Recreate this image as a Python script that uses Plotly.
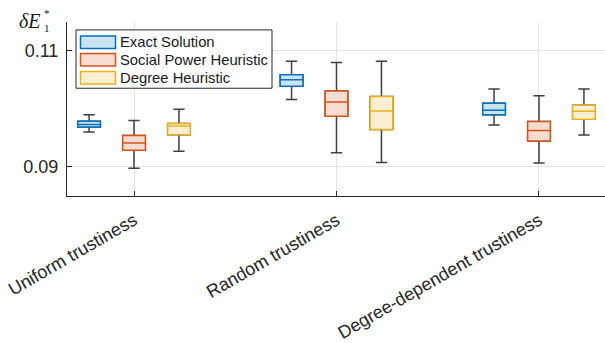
import plotly.graph_objects as go

# Scenario categories and compared methods
categories = ["Uniform trustiness", "Random trustiness", "Degree-dependent trustiness"]
methods = ["Exact Solution", "Social Power Heuristic", "Degree Heuristic"]

# Box statistics of delta E_1^* per scenario (whisker ends, quartiles, median)
exact_lower = [0.09597, 0.10159, 0.09716]
exact_q1 = [0.09682, 0.10386, 0.09897]
exact_median = [0.09726, 0.10500, 0.09972]
exact_q3 = [0.09784, 0.10586, 0.10091]
exact_upper = [0.09897, 0.10818, 0.10340]

social_lower = [0.08971, 0.09239, 0.09061]
social_q1 = [0.09283, 0.09870, 0.09443]
social_median = [0.09409, 0.10113, 0.09624]
social_q3 = [0.09539, 0.10306, 0.09778]
social_upper = [0.09795, 0.10795, 0.10221]

degree_lower = [0.09266, 0.09073, 0.09546]
degree_q1 = [0.09551, 0.09641, 0.09818]
degree_median = [0.09699, 0.09960, 0.09955]
degree_q3 = [0.09743, 0.10211, 0.10057]
degree_upper = [0.09989, 0.10818, 0.10340]

y_ticks = [0.09, 0.11]
y_tick_labels = ["0.09", "0.11"]

# Styling
W, H = 605, 343
ML, MR, MT, MB = 67, 0, 22, 145
FONT = "Liberation Sans"
AXIS_COLOR = "#262626"
GRID_COLOR = "#e4e4e4"
WHISKER_COLOR = "#404040"
EDGE = ["#0072BD", "#D95319", "#EDB120"]
FILL = ["rgb(204,227,242)", "rgb(247,221,209)", "rgb(251,239,210)"]
OFFSETS = [-0.222, 0.0, 0.222]
BOX_W = 0.112

stats = [
    (exact_lower, exact_q1, exact_median, exact_q3, exact_upper),
    (social_lower, social_q1, social_median, social_q3, social_upper),
    (degree_lower, degree_q1, degree_median, degree_q3, degree_upper),
]

fig = go.Figure()
cat_pos = [i + 1 for i in range(len(categories))]

for k, (lo, q1, med, q3, hi) in enumerate(stats):
    pos = [p + OFFSETS[k] for p in cat_pos]
    # whiskers and caps in dark grey
    fig.add_trace(go.Box(
        x=pos, q1=q1, median=med, q3=q3, lowerfence=lo, upperfence=hi,
        width=BOX_W, whiskerwidth=0.5, boxpoints=False,
        line=dict(color=WHISKER_COLOR, width=1.5),
        fillcolor="rgba(0,0,0,0)", showlegend=False, hoverinfo="skip",
    ))
    # coloured box with median line
    fig.add_trace(go.Box(
        x=pos, q1=q1, median=med, q3=q3, lowerfence=q1, upperfence=q3,
        width=BOX_W, whiskerwidth=0, boxpoints=False,
        line=dict(color=EDGE[k], width=1.5),
        fillcolor=FILL[k], name=methods[k], showlegend=False,
    ))

pw = W - ML - MR
ph = H - MT - MB


def px_x(px):
    return (px - ML) / pw


def px_y(py):
    return (H - MB - py) / ph


shapes = []
annotations = []

# legend box
shapes.append(dict(type="rect", xref="paper", yref="paper",
                   x0=px_x(76), x1=px_x(272), y0=px_y(89), y1=px_y(30),
                   line=dict(color=AXIS_COLOR, width=1), fillcolor="white", layer="above"))
row_y = [42.5, 60.2, 78.4]
for k, name in enumerate(methods):
    cy = row_y[k]
    shapes.append(dict(type="rect", xref="paper", yref="paper",
                       x0=px_x(80.5), x1=px_x(115.5), y0=px_y(cy + 6.3), y1=px_y(cy - 6.3),
                       line=dict(color=EDGE[k], width=1.5), fillcolor=FILL[k], layer="above"))
    annotations.append(dict(xref="paper", yref="paper", x=px_x(118), y=px_y(cy),
                            xanchor="left", yanchor="middle", showarrow=False, text=name,
                            font=dict(family=FONT, size=14.8, color="#1a1a1a")))

# y-axis label: delta E_1^*
annotations.append(dict(xref="paper", yref="paper", x=px_x(42), y=px_y(20.5),
                        xanchor="right", yanchor="middle", showarrow=False, borderpad=0,
                        text="<i>δE</i>", font=dict(family="Liberation Serif", size=20, color="#1a1a1a")))
annotations.append(dict(xref="paper", yref="paper", x=px_x(43), y=px_y(28),
                        xanchor="left", yanchor="middle", showarrow=False, borderpad=0,
                        text="1", font=dict(family="Liberation Serif", size=11, color="#1a1a1a")))
annotations.append(dict(xref="paper", yref="paper", x=px_x(43), y=px_y(13),
                        xanchor="left", yanchor="middle", showarrow=False, borderpad=0,
                        text="*", font=dict(family="Liberation Serif", size=11, color="#1a1a1a")))

fig.update_layout(
    width=W, height=H,
    margin=dict(l=ML, r=MR, t=MT, b=MB, pad=0),
    paper_bgcolor="white", plot_bgcolor="white",
    boxmode="overlay",
    showlegend=False,
    shapes=shapes,
    annotations=annotations,
    font=dict(family=FONT, color=AXIS_COLOR),
    xaxis=dict(
        range=[0.669, 3.326], tickmode="array", tickvals=cat_pos, ticktext=categories,
        tickangle=-30, ticks="inside", ticklen=5, tickwidth=1, tickcolor=AXIS_COLOR,
        ticklabelstandoff=6,
        showline=True, linecolor=AXIS_COLOR, linewidth=1,
        showgrid=True, gridcolor=GRID_COLOR, gridwidth=1, zeroline=False,
        tickfont=dict(family=FONT, size=18, color=AXIS_COLOR),
    ),
    yaxis=dict(
        range=[0.08494, 0.11494], tickmode="array", tickvals=y_ticks, ticktext=y_tick_labels,
        ticks="inside", ticklen=5, tickwidth=1, tickcolor=AXIS_COLOR,
        ticklabelstandoff=4,
        showline=True, linecolor=AXIS_COLOR, linewidth=1,
        showgrid=True, gridcolor=GRID_COLOR, gridwidth=1, zeroline=False,
        tickfont=dict(family=FONT, size=18, color=AXIS_COLOR),
    ),
)

fig.write_html("out.html")
